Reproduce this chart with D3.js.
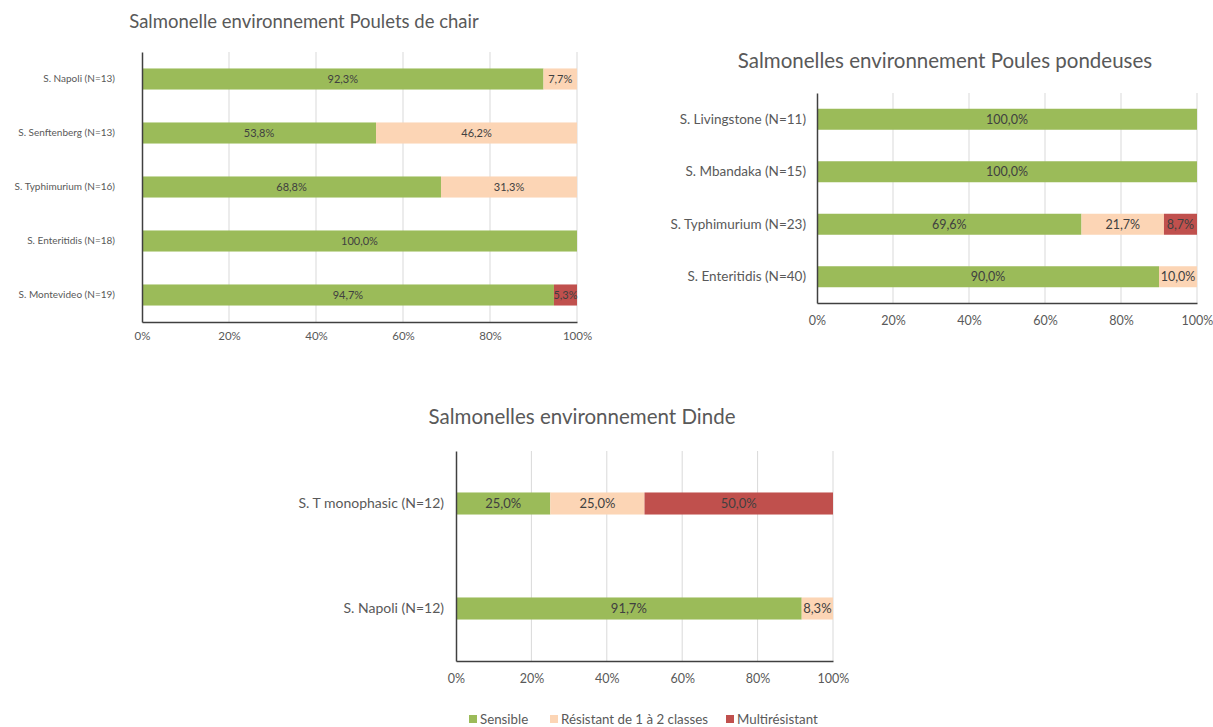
<!DOCTYPE html>
<meta charset="utf-8">
<script src="https://d3js.org/d3.v7.min.js"></script>
<style>
  body { margin: 0; background: #fff; }
  text { font-family: Lato, "Noto Sans", sans-serif; }
</style>
<div id="my_dataviz"></div>
<script>

  // series and colours
  var series = ["Sensible", "Résistant de 1 à 2 classes", "Multirésistant"];
  var colors = ["#9bbb59", "#fcd5b5", "#c0504d"];
  var tickValues = [0, 20, 40, 60, 80, 100];

  // Poulets de chair
  var pouletsCats = ["S. Napoli (N=13)", "S. Senftenberg (N=13)", "S. Typhimurium (N=16)", "S. Enteritidis (N=18)", "S. Montevideo (N=19)"];
  var pouletsSensible = [92.3, 53.8, 68.8, 100.0, 94.7];
  var pouletsResistant = [7.7, 46.2, 31.3, 0, 0];
  var pouletsMulti = [0, 0, 0, 0, 5.3];

  // Poules pondeuses
  var poulesCats = ["S. Livingstone (N=11)", "S. Mbandaka (N=15)", "S. Typhimurium (N=23)", "S. Enteritidis (N=40)"];
  var poulesSensible = [100.0, 100.0, 69.6, 90.0];
  var poulesResistant = [0, 0, 21.7, 10.0];
  var poulesMulti = [0, 0, 8.7, 0];

  // Dinde
  var dindeCats = ["S. T monophasic (N=12)", "S. Napoli (N=12)"];
  var dindeSensible = [25.0, 91.7];
  var dindeResistant = [25.0, 8.3];
  var dindeMulti = [50.0, 0];

  var svg = d3.select("#my_dataviz")
    .append("svg")
    .attr("width", 1213)
    .attr("height", 727);

  function fmt(v) { return v.toFixed(1).replace(".", ",") + "%"; }

  function drawChart(o) {
    var rows = o.cats.map(function (c, i) {
      var vals = [o.s[i], o.r[i], o.m[i]];
      var tot = d3.sum(vals), x0 = 0;
      return {
        cat: c,
        segs: vals.map(function (v, k) {
          var seg = { k: k, v: v, x0: x0 / tot * 100, x1: (x0 + v) / tot * 100 };
          x0 += v;
          return seg;
        })
      };
    });

    var x = d3.scaleLinear().domain([0, 100]).range([o.left, o.right]);
    var y = d3.scaleBand().domain(o.cats).range([o.top, o.bottom])
      .paddingInner(o.pad).paddingOuter(o.pad / 2);

    var g = svg.append("g");

    // title
    g.append("text")
      .attr("x", o.titleX).attr("y", o.titleY)
      .attr("text-anchor", "middle")
      .attr("font-size", o.titleSize)
      .attr("fill", "#595959")
      .text(o.title);

    // vertical gridlines
    g.selectAll(".grid").data(tickValues.slice(1)).enter()
      .append("line")
      .attr("x1", function (d) { return x(d); })
      .attr("x2", function (d) { return x(d); })
      .attr("y1", o.top).attr("y2", o.bottom)
      .attr("stroke", "#d9d9d9").attr("stroke-width", 1);

    // bars
    var row = g.selectAll(".row").data(rows).enter().append("g");
    row.selectAll("rect").data(function (d) { return d.segs.filter(function (s) { return s.v > 0; }); })
      .enter().append("rect")
      .attr("x", function (d) { return x(d.x0); })
      .attr("width", function (d) { return x(d.x1) - x(d.x0); })
      .attr("y", function (d) { return y(d3.select(this.parentNode).datum().cat); })
      .attr("height", y.bandwidth())
      .attr("fill", function (d) { return colors[d.k]; });

    row.selectAll(".val").data(function (d) { return d.segs.filter(function (s) { return s.v > 0; }); })
      .enter().append("text")
      .attr("x", function (d) { return (x(d.x0) + x(d.x1)) / 2; })
      .attr("y", function (d) { return y(d3.select(this.parentNode).datum().cat) + y.bandwidth() / 2; })
      .attr("dy", "0.35em")
      .attr("text-anchor", "middle")
      .attr("font-size", o.valSize)
      .attr("fill", "#404040")
      .text(function (d) { return fmt(d.v); });

    // x axis
    var xa = g.append("g")
      .attr("transform", "translate(0," + o.bottom + ")")
      .call(d3.axisBottom(x).tickValues(tickValues).tickSize(0).tickPadding(o.tickPad)
        .tickFormat(function (d) { return d + "%"; }));
    xa.select(".domain").attr("stroke", "#404040").attr("stroke-width", 1.5);
    xa.selectAll("text").attr("font-size", o.tickSize).attr("fill", "#595959")
      .style("font-family", "Lato, 'Noto Sans', sans-serif");

    // y axis
    var ya = g.append("g")
      .attr("transform", "translate(" + o.left + ",0)")
      .call(d3.axisLeft(y).tickSize(0).tickPadding(o.catPad));
    ya.select(".domain").attr("stroke", "#404040").attr("stroke-width", 1.5);
    ya.selectAll("text").attr("font-size", o.catSize).attr("fill", "#595959")
      .style("font-family", "Lato, 'Noto Sans', sans-serif");
  }

  drawChart({
    title: "Salmonelle environnement Poulets de chair", titleX: 304, titleY: 28, titleSize: 18.5,
    cats: pouletsCats, s: pouletsSensible, r: pouletsResistant, m: pouletsMulti,
    left: 142, right: 577, top: 52, bottom: 322, pad: 0.61,
    tickPad: 10, tickSize: 11.5, catSize: 10, catPad: 27, valSize: 11
  });

  drawChart({
    title: "Salmonelles environnement Poules pondeuses", titleX: 945, titleY: 68, titleSize: 20.5,
    cats: poulesCats, s: poulesSensible, r: poulesResistant, m: poulesMulti,
    left: 817, right: 1197, top: 93, bottom: 303, pad: 0.6,
    tickPad: 13, tickSize: 12.5, catSize: 13.5, catPad: 11, valSize: 12.5
  });

  drawChart({
    title: "Salmonelles environnement Dinde", titleX: 582, titleY: 424, titleSize: 20.5,
    cats: dindeCats, s: dindeSensible, r: dindeResistant, m: dindeMulti,
    left: 456, right: 833, top: 451, bottom: 661, pad: 0.79,
    tickPad: 13, tickSize: 12.5, catSize: 14, catPad: 12, valSize: 13
  });

  // legend
  var legX = [469, 550, 726];
  var leg = svg.append("g").selectAll("g").data(series).enter().append("g")
    .attr("transform", function (d, i) { return "translate(" + legX[i] + ",719)"; });
  leg.append("rect").attr("x", 0).attr("y", -4).attr("width", 8).attr("height", 8)
    .attr("fill", function (d, i) { return colors[i]; });
  leg.append("text").attr("x", 11).attr("dy", "0.35em")
    .attr("font-size", 13.3).attr("fill", "#595959")
    .text(function (d) { return d; });

</script>
